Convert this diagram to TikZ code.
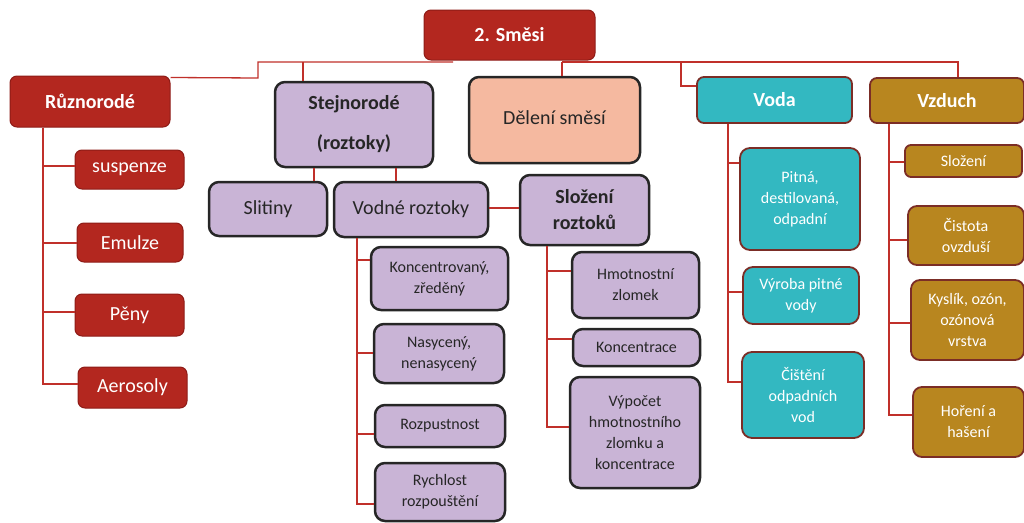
\documentclass[tikz,border=0pt]{standalone}
\usepackage{fontspec}
\setmainfont{Carlito}
\definecolor{rf}{HTML}{B3271F}
\definecolor{rb}{HTML}{8E1C17}
\definecolor{lav}{HTML}{C9B4D6}
\definecolor{salm}{HTML}{F5B9A0}
\definecolor{tl}{HTML}{33B8C1}
\definecolor{gd}{HTML}{B8861F}
\definecolor{mr}{HTML}{7B2D26}
\definecolor{lc}{HTML}{C0302A}
\tikzset{
  bx/.style={inner sep=0pt, align=center, rounded corners=7pt},
  redbox/.style={bx, fill=rf, draw=rb, line width=1pt, text=white, font=\fontsize{20}{24}\selectfont},
  redhead/.style={redbox, font=\fontsize{20}{24}\selectfont\bfseries},
  lavbox/.style={bx, fill=lav, draw=black!85, line width=2.5pt, rounded corners=10pt, text=black!85, font=\fontsize{16}{21}\selectfont},
  lavbig/.style={lavbox, font=\fontsize{20}{24}\selectfont},
  tealbox/.style={bx, fill=tl, draw=mr, line width=1.8pt, rounded corners=10pt, text=white, font=\fontsize{16}{21}\selectfont},
  goldbox/.style={bx, fill=gd, draw=mr, line width=1.8pt, rounded corners=9pt, text=white, font=\fontsize{16}{21}\selectfont},
  conn/.style={draw=lc, line width=1.3pt},
}
\begin{document}
\begin{tikzpicture}[x=1pt,y=-1pt]
\useasboundingbox (0,0) rectangle (1024,522);
\clip (0,0) rectangle (1024,522);
% bus coordinates
\coordinate (bl) at (453,62);
\coordinate (br) at (562,62);
\coordinate (bs) at (303,62);
\coordinate (bv) at (681,62);
\coordinate (bz) at (958,62);
% nodes
\node[redhead, minimum width=171pt, minimum height=50pt] (root) at (509.5,35) {2. Směsi};
\node[redhead, minimum width=160pt, minimum height=51pt] (ruz) at (90,101.5) {Různorodé};
\node[redbox, minimum width=109pt, minimum height=39pt] (susp) at (129.5,169.5) {suspenze};
\node[redbox, minimum width=106pt, minimum height=39pt] (emul) at (130,242.5) {Emulze};
\node[redbox, minimum width=109pt, minimum height=42pt] (peny) at (129.5,315) {Pěny};
\node[redbox, minimum width=109pt, minimum height=41pt] (aero) at (132.5,387.5) {Aerosoly};
\node[lavbig, font=\fontsize{20}{40}\selectfont\bfseries, minimum width=158pt, minimum height=85pt] (stej) at (354,124.5) {Stejnorodé\\(roztoky)};
\node[lavbig, fill=salm, minimum width=171pt, minimum height=86pt] (del) at (554.5,120) {\raisebox{5pt}{Dělení směsí}};
\node[lavbig, minimum width=118pt, minimum height=54pt] (slit) at (268,209) {Slitiny};
\node[lavbig, minimum width=154pt, minimum height=55pt] (vod) at (411,209.5) {Vodné roztoky};
\node[lavbig, font=\fontsize{20}{26}\selectfont\bfseries, minimum width=129pt, minimum height=70pt] (slr) at (584.5,210) {Složení\\roztoků};
\node[lavbox, minimum width=137pt, minimum height=63pt] (konc) at (439.5,278.5) {Koncentrovaný,\\zředěný};
\node[lavbox, minimum width=130pt, minimum height=59pt] (nas) at (439,353.5) {Nasycený,\\nenasycený};
\node[lavbox, minimum width=130pt, minimum height=42pt] (rozp) at (440,426) {Rozpustnost};
\node[lavbox, minimum width=130pt, minimum height=58pt] (rych) at (440,492) {Rychlost\\rozpouštění};
\node[lavbox, minimum width=127pt, minimum height=66pt] (hmot) at (635.5,285) {Hmotnostní\\zlomek};
\node[lavbox, minimum width=127pt, minimum height=37pt] (konc2) at (636.5,347.5) {Koncentrace};
\node[lavbox, minimum width=130pt, minimum height=111pt] (vyp) at (635,432.5) {Výpočet\\hmotnostního\\zlomku a\\koncentrace};
\node[tealbox, font=\fontsize{20}{24}\selectfont\bfseries, rounded corners=7pt, minimum width=155pt, minimum height=46pt] (voda) at (774.5,100) {Voda};
\node[tealbox, minimum width=120pt, minimum height=102pt] (pitna) at (800,199) {\raisebox{6pt}{\begin{tabular}{@{}c@{}}Pitná,\\destilovaná,\\odpadní\end{tabular}}};
\node[tealbox, minimum width=116pt, minimum height=57pt] (vyr) at (801,295.5) {Výroba pitné\\vody};
\node[tealbox, minimum width=122pt, minimum height=86pt] (cist) at (803,395) {Čištění\\odpadních\\vod};
\node[goldbox, font=\fontsize{20}{24}\selectfont\bfseries, rounded corners=7pt, minimum width=154pt, minimum height=45pt] (vzd) at (947,100.5) {Vzduch};
\node[goldbox, rounded corners=6pt, minimum width=117pt, minimum height=32pt] (sloz) at (963.5,161) {Složení};
\node[goldbox, minimum width=116pt, minimum height=59pt] (cisto) at (966,235.5) {Čistota\\ovzduší};
\node[goldbox, minimum width=113pt, minimum height=80pt] (kysl) at (967.5,320) {Kyslík, ozón,\\ozónová\\vrstva};
\node[goldbox, minimum width=111pt, minimum height=70pt] (hor) at (968.5,422) {Hoření a\\hašení};
% connectors
\draw[conn] (bl) -- (bs) -- (258,62) -- (258,78) -- ([yshift=-2pt]ruz.north east);
\draw[conn] (bs) -- (stej.north -| bs);
\draw[conn] (br) -- (bv) -- (bz) -- (vzd.north -| bz);
\draw[conn] (br) -- (del.north -| br);
\draw[conn] (bv) |- (voda.west |- 0,86);
% Různorodé
\draw[conn] (ruz.south -| 43,0) |- (susp.west |- 0,166);
\draw[conn] (ruz.south -| 43,0) |- (emul.west |- 0,243);
\draw[conn] (ruz.south -| 43,0) |- (peny.west |- 0,312);
\draw[conn] (ruz.south -| 43,0) |- (aero.west |- 0,384);
% Stejnorodé
\draw[conn] (stej.south -| 314,0) -- (slit.north -| 314,0);
\draw[conn] (stej.south -| 396,0) -- (vod.north -| 396,0);
\draw[conn] (vod.east |- 0,208) -- (slr.west |- 0,208);
\draw[conn] (vod.south -| 357,0) |- (konc.west |- 0,260);
\draw[conn] (vod.south -| 357,0) |- (nas.west |- 0,353);
\draw[conn] (vod.south -| 357,0) |- (rozp.west |- 0,434);
\draw[conn] (vod.south -| 357,0) |- (rych.west |- 0,504);
\draw[conn] (slr.south -| 547,0) |- (hmot.west |- 0,271);
\draw[conn] (slr.south -| 547,0) |- (konc2.west |- 0,339);
\draw[conn] (slr.south -| 547,0) |- (vyp.west |- 0,427);
% Voda
\draw[conn] (voda.south -| 728,0) |- (pitna.west |- 0,163);
\draw[conn] (voda.south -| 728,0) |- (vyr.west |- 0,292);
\draw[conn] (voda.south -| 728,0) |- (cist.west |- 0,382);
% Vzduch
\draw[conn] (vzd.south -| 889,0) |- (sloz.west |- 0,162);
\draw[conn] (vzd.south -| 889,0) |- (cisto.west |- 0,240);
\draw[conn] (vzd.south -| 889,0) |- (kysl.west |- 0,323);
\draw[conn] (vzd.south -| 889,0) |- (hor.west |- 0,415);
\end{tikzpicture}
\end{document}
